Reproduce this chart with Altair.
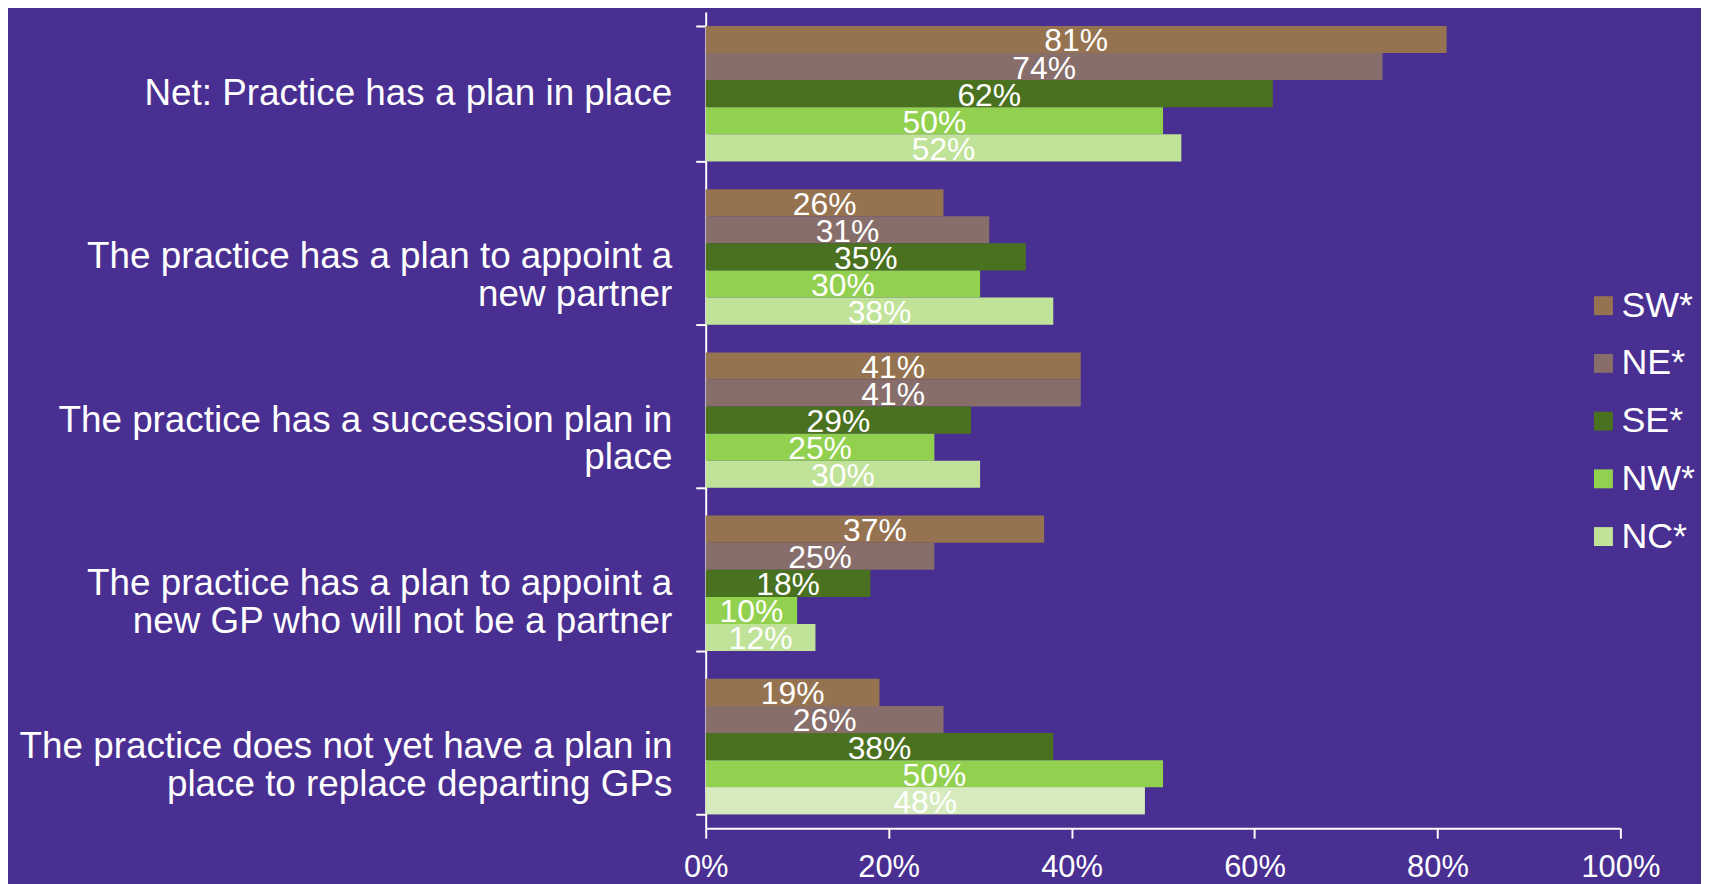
import altair as alt
import pandas as pd

categories = [
    "Net: Practice has a plan in place",
    "The practice has a plan to appoint a|new partner",
    "The practice has a succession plan in|place",
    "The practice has a plan to appoint a|new GP who will not be a partner",
    "The practice does not yet have a plan in|place to replace departing GPs",
]
regions = ["SW*", "NE*", "SE*", "NW*", "NC*"]
colors = ["#957350", "#876E6A", "#4A711F", "#92D050", "#C0E399"]

sw = [81, 26, 41, 37, 19]
ne = [74, 31, 41, 25, 26]
se = [62, 35, 29, 18, 38]
nw = [50, 30, 25, 10, 50]
nc = [52, 38, 30, 12, 48]

series = {"SW*": sw, "NE*": ne, "SE*": se, "NW*": nw, "NC*": nc}
rows = []
for r in regions:
    for c, v in zip(categories, series[r]):
        rows.append({"cat": c, "region": r, "value": v})
df = pd.DataFrame(rows)

FONT = "Liberation Sans"
BG = "#492F91"

y_enc = alt.Y(
    "cat:N",
    sort=categories,
    title=None,
    scale=alt.Scale(paddingInner=0.17, paddingOuter=0.085),
    axis=alt.Axis(
        labelExpr="split(datum.label, '|')",
        labelFontSize=37,
        labelLineHeight=38,
        labelColor="white",
        labelFont=FONT,
        labelPadding=24,
        labelLimit=1000,
        tickBand="extent",
        tickSize=10,
        tickColor="white",
        tickWidth=2,
        domainColor="white",
        domainWidth=2,
    ),
)
yoff = alt.YOffset("region:N", sort=regions, scale=alt.Scale(paddingInner=0, paddingOuter=0))

x_enc = alt.X(
    "value:Q",
    title=None,
    scale=alt.Scale(domain=[0, 100], nice=False),
    axis=alt.Axis(
        values=[0, 20, 40, 60, 80, 100],
        labelExpr="datum.value + '%'",
        labelFontSize=31,
        labelColor="white",
        labelFont=FONT,
        labelPadding=15,
        tickSize=10,
        tickColor="white",
        tickWidth=2,
        domainColor="white",
        domainWidth=2,
        grid=False,
        labelFlush=False,
    ),
)

bars = alt.Chart(df).mark_bar().encode(
    x=x_enc,
    y=y_enc,
    yOffset=yoff,
    color=alt.Color(
        "region:N",
        sort=regions,
        scale=alt.Scale(domain=regions, range=colors),
        legend=alt.Legend(
            title=None,
            orient="none",
            legendX=884,
            legendY=277,
            symbolType="square",
            symbolSize=361,
            symbolStrokeWidth=0,
            labelFontSize=36,
            labelFont=FONT,
            labelColor="white",
            labelOffset=0,
            rowPadding=22,
        ),
    ),
)

last_nc = alt.Chart(df).transform_filter(
    f"datum.region == 'NC*' && datum.cat == '{categories[4]}'"
).mark_bar(color="#D6EBBD").encode(
    x=alt.X("value:Q"),
    y=alt.Y("cat:N", sort=categories),
    yOffset=alt.YOffset("region:N", sort=regions),
)

labels = alt.Chart(df).transform_calculate(
    mid="datum.value / 2", txt="datum.value + '%'"
).mark_text(
    color="white", fontSize=32, font=FONT, baseline="middle", dy=2
).encode(
    x=alt.X("mid:Q"),
    y=alt.Y("cat:N", sort=categories),
    yOffset=alt.YOffset("region:N", sort=regions),
    text="txt:N",
)

chart = (
    alt.layer(bars, last_nc, labels)
    .properties(
        width=919,
        height=820,
        background=BG,
        autosize=alt.AutoSizeParams(type="none"),
        padding={"left": 701, "top": 2, "right": 81, "bottom": 54},
    )
    .configure_view(stroke=None)
)

chart.save("out.html", embed_options={"renderer": "svg", "actions": False})
